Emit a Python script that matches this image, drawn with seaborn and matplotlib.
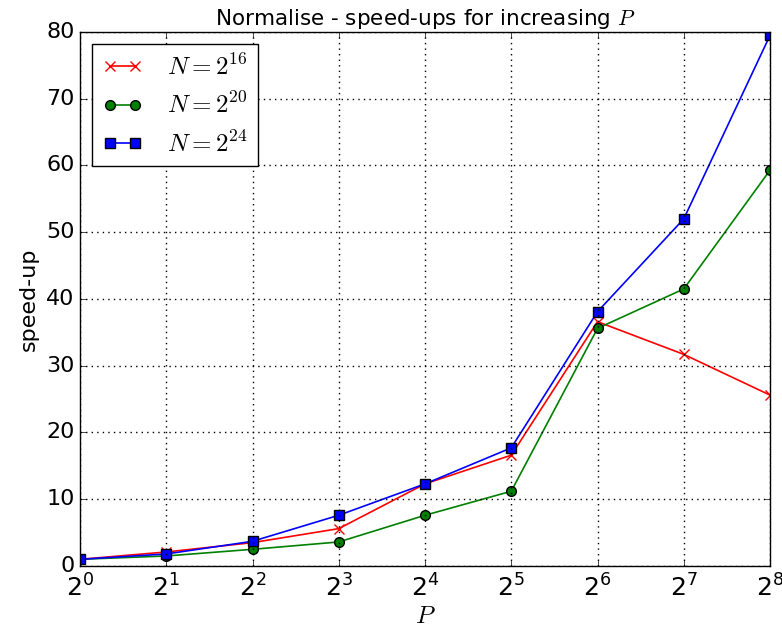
import matplotlib
matplotlib.use("Agg")
import matplotlib.pyplot as plt
import seaborn as sns
import pandas as pd
from matplotlib.ticker import LogLocator, LogFormatterSciNotation, MultipleLocator, NullLocator

# Processor counts and measured speed-ups
P = [1, 2, 4, 8, 16, 32, 64, 128, 256]
speedup_n16 = [1.0, 2.1, 3.5, 5.6, 12.3, 16.6, 36.6, 31.7, 25.6]
speedup_n20 = [1.0, 1.5, 2.5, 3.6, 7.6, 11.2, 35.6, 41.5, 59.3]
speedup_n24 = [1.0, 1.8, 3.7, 7.6, 12.3, 17.7, 38.1, 52.0, 79.5]
series_labels = [r"$N=2^{16}$", r"$N=2^{20}$", r"$N=2^{24}$"]

plt.style.use("classic")
plt.rcParams["font.family"] = ["DejaVu Sans"]
plt.rcParams["mathtext.fontset"] = "cm"

fig = plt.figure(figsize=(7.82, 6.27), dpi=100, facecolor="white")
ax = fig.add_axes([0.1023, 0.0973, 0.8824, 0.8517])

styles = [("red", "x"), ("green", "o"), ("blue", "s")]
for vals, lab, (col, mk) in zip([speedup_n16, speedup_n20, speedup_n24], series_labels, styles):
    df = pd.DataFrame({"P": P, "speedup": vals})
    sns.lineplot(data=df, x="P", y="speedup", ax=ax, color=col, marker=mk,
                 markersize=7, markeredgecolor="black" if mk != "x" else col,
                 markeredgewidth=1, label=lab, linewidth=1.2)

ax.set_xscale("log", base=2)
ax.set_xlim(1, 256)
ax.set_ylim(0, 80)
ax.xaxis.set_major_locator(LogLocator(base=2, numticks=20))
ax.xaxis.set_major_formatter(LogFormatterSciNotation(base=2))
ax.xaxis.set_minor_locator(NullLocator())
ax.yaxis.set_major_locator(MultipleLocator(10))
ax.grid(True, linestyle=":", color="black", linewidth=1)
ax.tick_params(axis="y", labelsize=16)
ax.tick_params(axis="x", labelsize=18, pad=6)
ax.set_xlabel(r"$P$", fontsize=18, labelpad=2)
ax.set_ylabel("speed-up", fontsize=16)
ax.set_title(r"Normalise - speed-ups for increasing $P$", fontsize=15.5)
ax.legend(loc="upper left", fontsize=18, numpoints=2,
          handlelength=1.6, handletextpad=1.0)

fig.savefig("out.png", dpi=100, facecolor="white")
